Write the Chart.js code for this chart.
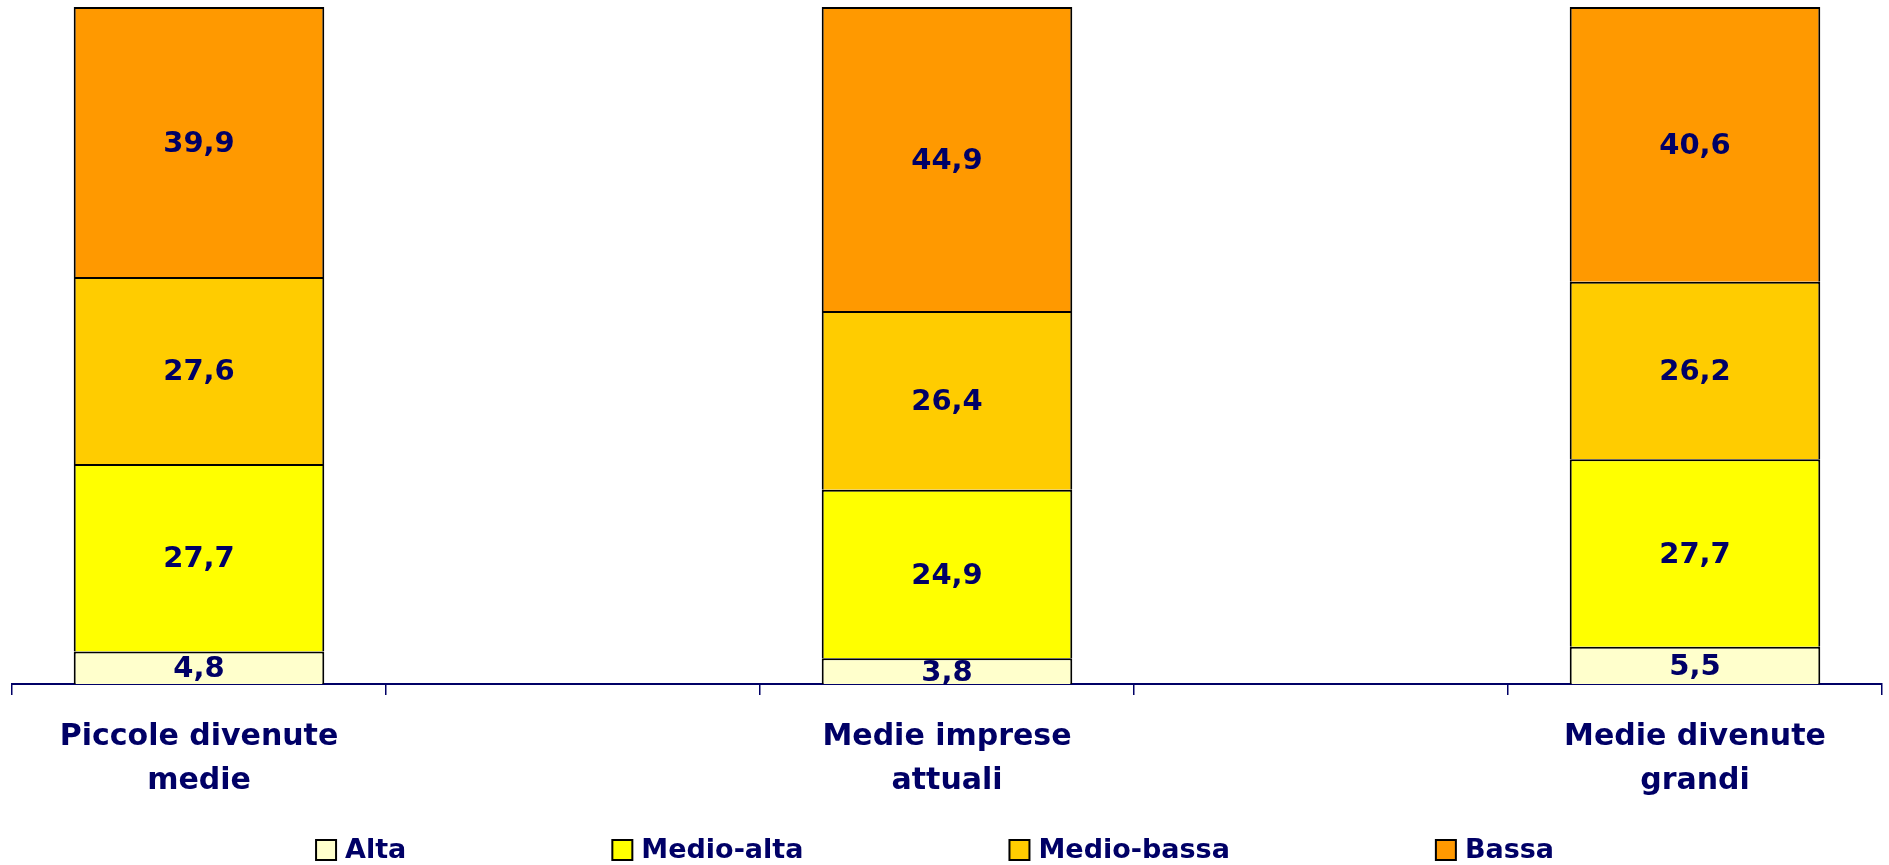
<!DOCTYPE html>
<html>
<head>
<meta charset="utf-8">
<script src="https://cdn.jsdelivr.net/npm/chart.js@4.4.1/dist/chart.umd.min.js"></script>
<style>
  html, body { margin: 0; padding: 0; background: #ffffff; }
  #wrap { width: 1889px; height: 865px; position: relative; }
</style>
</head>
<body>
<div id="wrap"><canvas id="c" width="1889" height="865"></canvas></div>
<script>
// ---- data ----
const categories = [["Piccole divenute", "medie"], "", ["Medie imprese", "attuali"], "", ["Medie divenute", "grandi"]];
const seriesNames = ["Alta", "Medio-alta", "Medio-bassa", "Bassa"];
const alta       = [4.8,  null, 3.8,  null, 5.5];
const medioAlta  = [27.7, null, 24.9, null, 27.7];
const medioBassa = [27.6, null, 26.4, null, 26.2];
const bassa      = [39.9, null, 44.9, null, 40.6];
const yMin = 0, yMax = 100;

// ---- styles ----
const colors = ["#FFFFCC", "#FFFF00", "#FFCC00", "#FF9900"];
const navy = "#000066";
const FONT = "'DejaVu Sans', Verdana, sans-serif";

const fmt = v => v.toFixed(1).replace('.', ',');

const valueLabels = {
  id: 'valueLabels',
  afterDatasetsDraw(chart) {
    const ctx = chart.ctx;
    ctx.save();
    ctx.font = "bold 29px " + FONT;
    ctx.fillStyle = navy;
    ctx.textAlign = 'center';
    ctx.textBaseline = 'middle';
    chart.data.datasets.forEach((ds, di) => {
      const meta = chart.getDatasetMeta(di);
      meta.data.forEach((el, i) => {
        const v = ds.data[i];
        if (v === null || v === undefined) return;
        const p = el.getProps(['x', 'y', 'base'], true);
        ctx.fillText(fmt(v), p.x, (p.y + p.base) / 2 + 2);
      });
    });
    ctx.restore();
  }
};

const customLegend = {
  id: 'customLegend',
  afterDraw(chart) {
    const ctx = chart.ctx;
    ctx.save();
    ctx.font = "bold 27px " + FONT;
    const box = 20, gapText = 9, gapItem = 206;
    const items = chart.data.datasets.map(ds => ({
      text: ds.label, color: ds.backgroundColor,
      w: box + gapText + ctx.measureText(ds.label).width
    }));
    const total = items.reduce((s, it) => s + it.w, 0) + gapItem * (items.length - 1);
    let x = chart.width * 0.495 - total / 2;
    const y = 850;
    items.forEach(it => {
      ctx.fillStyle = it.color;
      ctx.fillRect(x, y - box / 2, box, box);
      ctx.lineWidth = 2;
      ctx.strokeStyle = '#000000';
      ctx.strokeRect(x, y - box / 2, box, box);
      ctx.fillStyle = navy;
      ctx.textAlign = 'left';
      ctx.textBaseline = 'middle';
      ctx.fillText(it.text, x + box + gapText, y + 1);
      x += it.w + gapItem;
    });
    ctx.restore();
  }
};

const seriesData = [alta, medioAlta, medioBassa, bassa];

new Chart(document.getElementById('c'), {
  type: 'bar',
  data: {
    labels: categories,
    datasets: seriesNames.map((name, i) => ({
      label: name,
      data: seriesData[i],
      backgroundColor: colors[i],
      borderColor: '#000000',
      borderWidth: 2,
      categoryPercentage: 0.67,
      barPercentage: 1.0
    }))
  },
  options: {
    responsive: false,
    animation: false,
    devicePixelRatio: 1,
    layout: { padding: { left: 12, right: 7, top: 7, bottom: 0 } },
    plugins: {
      legend: { display: false },
      tooltip: { enabled: false }
    },
    scales: {
      x: {
        stacked: true,
        afterFit(scale) { scale.height = 181; },
        grid: {
          display: true,
          drawOnChartArea: false,
          drawTicks: true,
          tickLength: 11,
          color: navy,
          lineWidth: 1.5,
          offset: true
        },
        border: { display: true, color: navy, width: 2 },
        ticks: {
          color: navy,
          font: { family: FONT, size: 30, weight: 'bold', lineHeight: 1.48 },
          padding: 20,
          maxRotation: 0,
          autoSkip: false
        }
      },
      y: {
        stacked: true,
        display: false,
        min: yMin,
        max: yMax
      }
    }
  },
  plugins: [valueLabels, customLegend]
});
</script>
</body>
</html>
